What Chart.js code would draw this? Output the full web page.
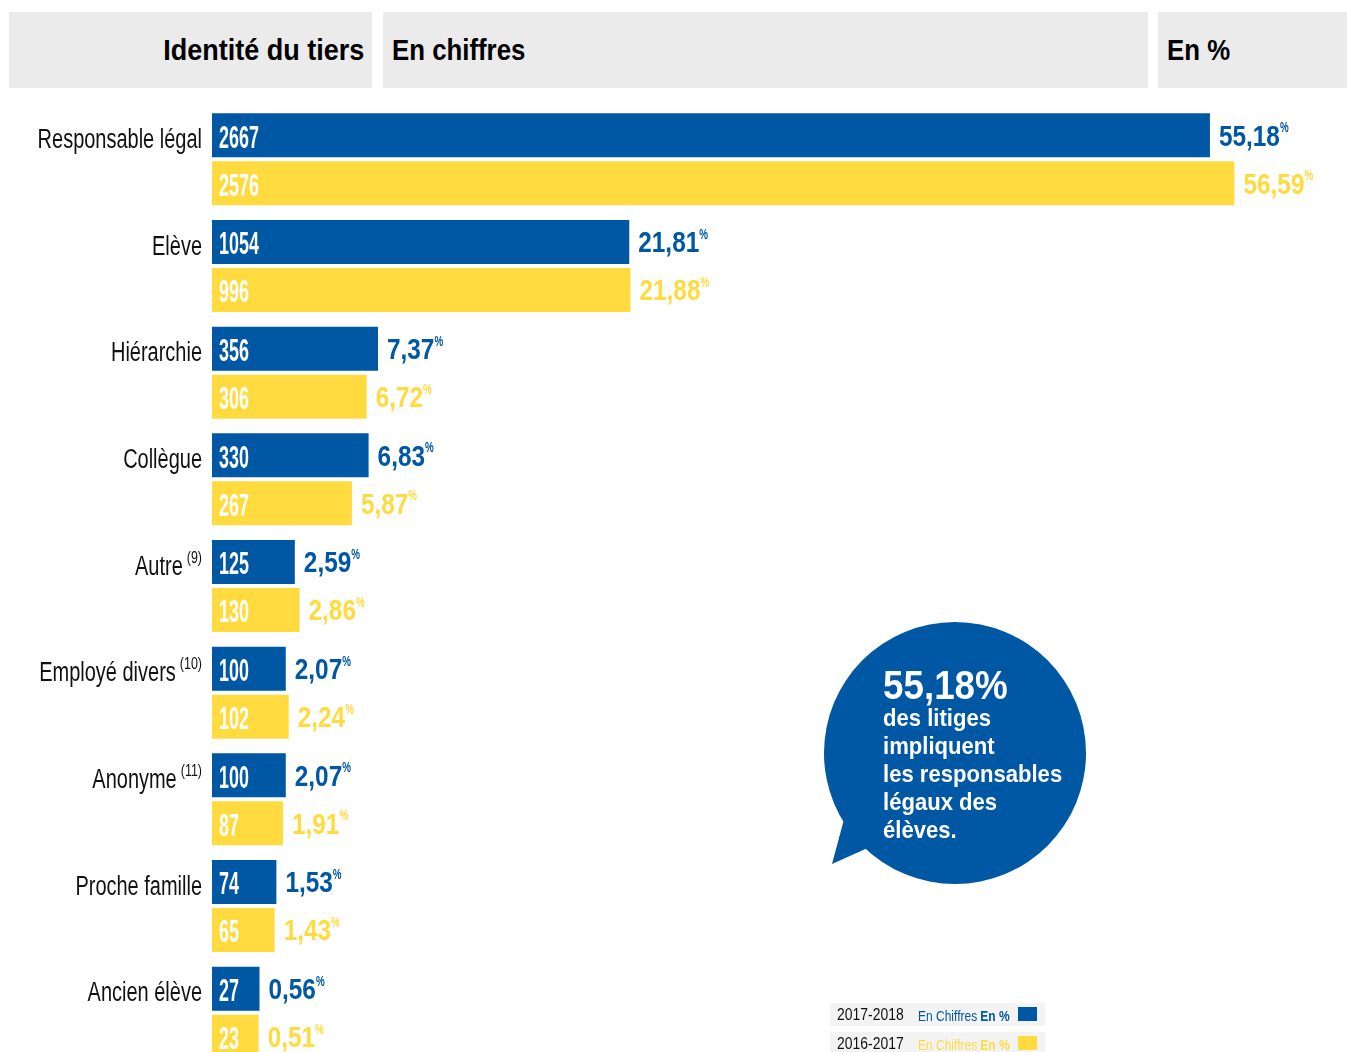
<!DOCTYPE html>
<html lang="fr">
<head>
<meta charset="utf-8">
<title>Identité du tiers</title>
<script src="https://cdn.jsdelivr.net/npm/chart.js@4.4.1/dist/chart.umd.min.js"></script>
<style>
  body { margin: 0; background: #fff; }
  #wrap { position: relative; width: 1347px; height: 1052px; overflow: hidden; background: #fff;
          font-family: 'Liberation Sans', Arial, sans-serif; }
  #chart { position: absolute; left: 0; top: 0; }
  .hd { position: absolute; top: 12px; height: 76px; background: #ebebeb; display: flex; align-items: center;
        font-weight: bold; font-size: 30px; color: #000; white-space: nowrap; }
  .hd span { display: inline-block; transform: scaleX(0.86); transform-origin: left center; }
  .hd.r { justify-content: flex-end; }
  .hd.r span { transform: scaleX(0.9); transform-origin: right center; }
  #bubble { position: absolute; left: 0; top: 0; }
  #btext { position: absolute; left: 883px; top: 666px; color: #fff; font-weight: bold;
           transform: scaleX(0.92); transform-origin: left top; white-space: nowrap; }
  #btext .big { font-size: 40px; line-height: 38px; }
  #btext .sm { font-size: 24px; line-height: 28px; }
  .lg { position: absolute; left: 830px; width: 215px; height: 23px; background: #f3f3f3;
        white-space: nowrap; }
  .lg .yr { position: absolute; left: 7px; top: 2px; font-size: 17px; color: #111;
            transform: scaleX(0.82); transform-origin: left top; }
  .lg .ec { position: absolute; left: 88px; top: 4px; font-size: 15px;
            transform: scaleX(0.8); transform-origin: left top; }
  .lg .ec b { margin-left: 4px; }
  .lg .sq { position: absolute; left: 188px; top: 4px; width: 19px; height: 14px; }
</style>
</head>
<body>
<div id="wrap">
  <div class="hd r" style="left:9px;width:363px;padding-right:8px;box-sizing:border-box"><span>Identité du tiers</span></div>
  <div class="hd" style="left:383px;width:765px;padding-left:9px;box-sizing:border-box"><span>En chiffres</span></div>
  <div class="hd" style="left:1158px;width:189px;padding-left:9px;box-sizing:border-box"><span>En %</span></div>

  <canvas id="chart" width="1347" height="1070"></canvas>

  <svg id="bubble" width="1347" height="1052">
    <circle cx="955" cy="753" r="131" fill="#0057a3"></circle>
    <path d="M 846 812 L 832 864 L 872 846 Z" fill="#0057a3"></path>
  </svg>
  <div id="btext">
    <div class="big">55,18%</div>
    <div class="sm">des litiges</div>
    <div class="sm">impliquent</div>
    <div class="sm">les responsables</div>
    <div class="sm">légaux des</div>
    <div class="sm">élèves.</div>
  </div>

  <div class="lg" style="top:1003px">
    <span class="yr">2017-2018</span>
    <span class="ec" style="color:#0057a3">En Chiffres<b>En %</b></span>
    <span class="sq" style="background:#0057a3"></span>
  </div>
  <div class="lg" style="top:1032px">
    <span class="yr">2016-2017</span>
    <span class="ec" style="color:#ffdb3f">En Chiffres<b>En %</b></span>
    <span class="sq" style="background:#ffdb3f"></span>
  </div>
</div>

<script>
const categories = ['Responsable légal', 'Elève', 'Hiérarchie', 'Collègue', 'Autre',
                    'Employé divers', 'Anonyme', 'Proche famille', 'Ancien élève'];
const notes = ['', '', '', '', '(9)', '(10)', '(11)', '', ''];

const counts2018 = [2667, 1054, 356, 330, 125, 100, 100, 74, 27];
const pct2018 = [55.18, 21.81, 7.37, 6.83, 2.59, 2.07, 2.07, 1.53, 0.56];

const counts2017 = [2576, 996, 306, 267, 130, 102, 87, 65, 23];
const pct2017 = [56.59, 21.88, 6.72, 5.87, 2.86, 2.24, 1.91, 1.43, 0.51];

const BLUE = '#0057a3';
const YELLOW = '#ffdb3f';
const FONT = '"Liberation Sans", Arial, sans-serif';
// bars start with a small stub, so the value axis begins a bit below zero
const STUB = 2.17;

function fmtPct(v) {
  return v.toFixed(2).replace('.', ',');
}

// condensed text: drawn with a horizontal squeeze, centred vertically on yc
function drawText(ctx, str, x, yc, size, weight, color, align, sx) {
  ctx.save();
  ctx.font = weight + ' ' + size + 'px ' + FONT;
  ctx.fillStyle = color;
  ctx.textAlign = 'left';
  ctx.textBaseline = 'alphabetic';
  const w = ctx.measureText(str).width * sx;
  const left = align === 'right' ? x - w : x;
  ctx.translate(left, yc + size * 0.358);
  ctx.scale(sx, 1);
  ctx.fillText(str, 0, 0);
  ctx.restore();
  return w;
}

const barLabels = {
  id: 'barLabels',
  afterDatasetsDraw(chart) {
    const ctx = chart.ctx;
    const counts = [counts2018, counts2017];
    const pcts = [pct2018, pct2017];
    chart.data.datasets.forEach((ds, di) => {
      chart.getDatasetMeta(di).data.forEach((bar, i) => {
        const left = Math.min(bar.x, bar.base);
        const right = Math.max(bar.x, bar.base);
        drawText(ctx, String(counts[di][i]), left + 7, bar.y + 1, 32, 'bold', '#fff', 'left', 0.56);
        const w = drawText(ctx, fmtPct(pcts[di][i]), right + 9, bar.y, 29, 'bold', ds.backgroundColor, 'left', 0.84);
        drawText(ctx, '%', right + 9 + w, bar.y - 8, 14, 'bold', ds.backgroundColor, 'left', 0.7);
      });
    });

    const blue = chart.getDatasetMeta(0).data;
    categories.forEach((name, i) => {
      const y = blue[i].y + 3;
      let x = 202;
      if (notes[i]) {
        const nw = drawText(ctx, notes[i], x, y - 8, 16, 'normal', '#111', 'right', 0.78);
        x -= nw + 4;
      }
      drawText(ctx, name, x, y, 27, 'normal', '#111', 'right', 0.74);
    });
  }
};

new Chart(document.getElementById('chart'), {
  type: 'bar',
  data: {
    labels: categories,
    datasets: [
      { label: '2017-2018', data: pct2018, backgroundColor: BLUE, base: -STUB },
      { label: '2016-2017', data: pct2017, backgroundColor: YELLOW, base: -STUB }
    ]
  },
  options: {
    indexAxis: 'y',
    responsive: false,
    animation: false,
    devicePixelRatio: 1,
    layout: { padding: { left: 212, right: 17, top: 106, bottom: 4 } },
    datasets: { bar: { categoryPercentage: 0.9, barPercentage: 0.917 } },
    scales: {
      x: { display: false, min: -STUB, max: 62.08 },
      y: { display: false }
    },
    plugins: {
      legend: { display: false },
      tooltip: { enabled: false }
    }
  },
  plugins: [barLabels]
});
</script>
</body>
</html>
